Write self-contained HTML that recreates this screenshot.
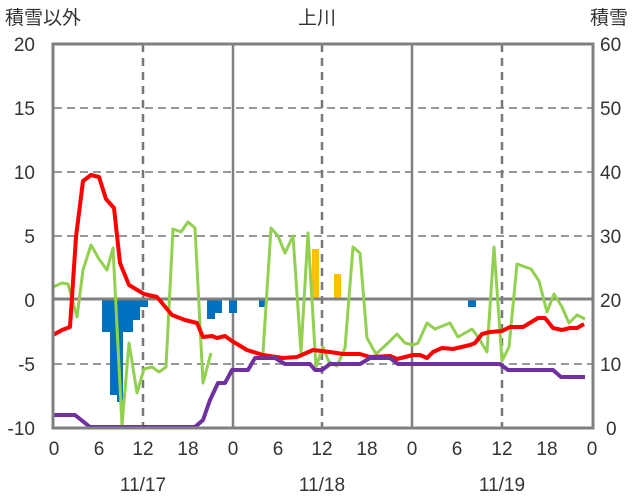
<!DOCTYPE html><html><head><meta charset="utf-8"><style>body{margin:0;background:#fff}svg{display:block}text{font-family:"Liberation Sans","Noto Sans CJK JP",sans-serif;font-size:19px;fill:#333}</style></head><body>
<svg width="636" height="501" viewBox="0 0 636 501">
<g stroke="#999" stroke-width="2" stroke-dasharray="8,5">
<line x1="54" y1="108" x2="592" y2="108"/><line x1="54" y1="172" x2="592" y2="172"/><line x1="54" y1="236" x2="592" y2="236"/><line x1="54" y1="364" x2="592" y2="364"/>
</g>
<g stroke="#777" stroke-width="2.5" stroke-dasharray="8,6">
<line x1="143" y1="44" x2="143" y2="428"/><line x1="322" y1="44" x2="322" y2="428"/><line x1="502" y1="44" x2="502" y2="428"/>
</g>
<g stroke="#808080" stroke-width="2.5"><line x1="233" y1="44" x2="233" y2="428"/><line x1="412" y1="44" x2="412" y2="428"/></g>
<g fill="#0070C0">
<rect x="102" y="300" width="8" height="32"/><rect x="110" y="300" width="7" height="95"/><rect x="117" y="300" width="6" height="102"/><rect x="123" y="300" width="10" height="32"/><rect x="133" y="300" width="7" height="20"/><rect x="140" y="300" width="8" height="7"/>
<rect x="207" y="300" width="8" height="19"/><rect x="215" y="300" width="7" height="13"/><rect x="229" y="300" width="8" height="13"/><rect x="259" y="300" width="6" height="7"/><rect x="468" y="300" width="8" height="7"/>
</g>
<g fill="#FFC000"><rect x="312" y="249" width="7" height="51"/><rect x="334" y="274" width="7" height="26"/></g>
<line x1="54" y1="299" x2="592" y2="299" stroke="#808080" stroke-width="3"/>
<g fill="none" stroke-linejoin="round" stroke-width="4">
<polyline stroke="#92D050" stroke-width="3" points="53,287 62,283 68,284 77,317 83,270 91,245 99,259 107,270 113,248 122,425 129,343 137,393 144,369 152,367 159,372 166,367 173,229 181,232 188,222 195,228 203,383 211,353"/>
<polyline stroke="#92D050" stroke-width="3" points="263,353 271,228 278,236 285,253 293,236 301,352 308,233 316,367 323,347 329,362 337,366 345,348 353,247 360,253 367,338 376,354 388,343 397,334 405,343 413,345 418,343 427,323 435,329 450,323 458,337 472,329 478,337 487,352 494,247 502,361 509,347 517,264 531,269 539,281 547,312 554,294 562,307 569,323 577,315 585,319"/>
<polyline stroke="#FF0000" points="53,335 62,330 70,327 76,237 83,181 91,175 99,177 106,199 114,208 120,263 129,285 144,294 157,297 172,315 185,320 197,323 203,337 212,336 217,338 225,336 232,341 247,350 263,355 283,358 297,357 313,350 330,352 343,354 360,354 370,357 390,356 397,359 413,355 420,355 427,358 433,352 442,348 453,349 470,345 475,343 482,334 490,332 502,331 510,327 523,327 538,318 545,318 553,328 562,330 570,328 577,328 584,324"/>
<polyline stroke="#7030A0" points="53,415 75,415 90,427 195,427 203,420 210,400 218,383 225,383 232,370 248,370 255,358 275,358 285,364 310,364 315,370 322,370 330,364 360,364 370,358 390,358 398,364 500,364 508,370 553,370 561,377 585,377"/>
</g>
<rect x="53" y="44" width="540" height="384" fill="none" stroke="#808080" stroke-width="3"/>
<text x="5" y="24">積雪以外</text><text x="298" y="24">上川</text><text x="590" y="24">積雪</text>
<g text-anchor="end"><text x="35" y="51">20</text><text x="35" y="115">15</text><text x="35" y="179">10</text><text x="35" y="243">5</text><text x="35" y="307">0</text><text x="35" y="371">-5</text><text x="35" y="435">-10</text></g>
<g text-anchor="start"><text x="600" y="51">60</text><text x="600" y="115">50</text><text x="600" y="179">40</text><text x="600" y="243">30</text><text x="600" y="307">20</text><text x="600" y="371">10</text><text x="606" y="435">0</text></g>
<g text-anchor="middle"><text x="54" y="455">0</text><text x="99" y="455">6</text><text x="143" y="455">12</text><text x="188" y="455">18</text><text x="233" y="455">0</text><text x="278" y="455">6</text><text x="322" y="455">12</text><text x="367" y="455">18</text><text x="412" y="455">0</text><text x="457" y="455">6</text><text x="502" y="455">12</text><text x="547" y="455">18</text><text x="592" y="455">0</text>
<text x="143" y="491">11/17</text><text x="322" y="491">11/18</text><text x="502" y="491">11/19</text></g>
</svg></body></html>
